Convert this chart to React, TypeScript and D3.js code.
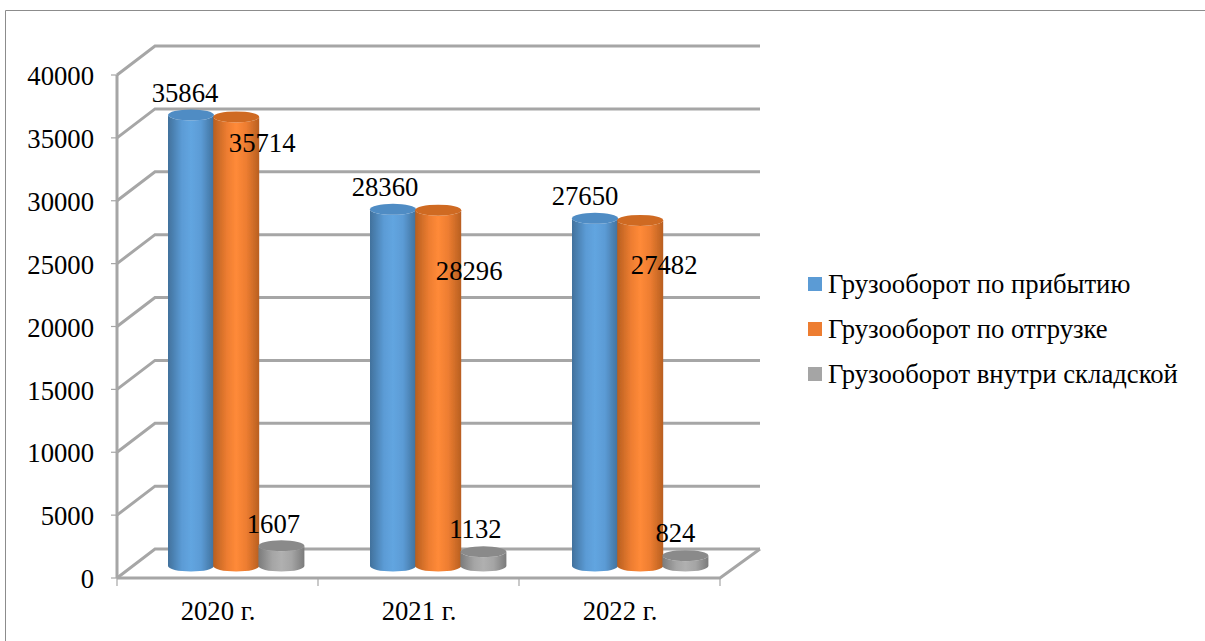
import React from "react";
import * as d3 from "d3";

const categories = ["2020 г.", "2021 г.", "2022 г."];
const seriesNames = ["Грузооборот по прибытию", "Грузооборот по отгрузке", "Грузооборот внутри складской"];
const arrival = [35864, 28360, 27650];
const shipment = [35714, 28296, 27482];
const internal = [1607, 1132, 824];
const yTicks = [0, 5000, 10000, 15000, 20000, 25000, 30000, 35000, 40000];

const seriesValues = [arrival, shipment, internal];
const palette = [
  { top: "#4f8cc4", edge: "#41719c", mid: "#5b9bd5", light: "#62a5e0", legend: "#5b9bd5" },
  { top: "#cf6a22", edge: "#b85f20", mid: "#ed7d31", light: "#ff8a38", legend: "#ed7d31" },
  { top: "#8a8a8a", edge: "#7b7b7b", mid: "#a5a5a5", light: "#b0b0b0", legend: "#a5a5a5" },
];
// label nudges relative to the top centre of each cylinder [dx, dy of text middle]
const labelNudges = [
  [[-6, -19], [-8, -19], [-10, -19]],
  [[26, 29], [31, 64], [24, 47]],
  [[-8, -19], [-8, -20], [-10, -20]],
];

const FONT = "'Liberation Serif', 'Times New Roman', serif";
const GRID = "#a6a6a6";
const FRONT_X0 = 117, FRONT_X1 = 720, DX = 38, DY = 29;
const Y0 = 578, Y1 = 75;
const FS = 26.7;

export default function App() {
  const y = d3.scaleLinear().domain([0, 40000]).range([Y0, Y1]);
  const x = d3.scaleBand<string>().domain(categories).range([FRONT_X0, FRONT_X1]);
  const sub = d3.scaleBand<string>().domain(["0", "1", "2"]).range([51, 51 + 138]);
  const baseShift = -12;
  const rx = 23, ry = 5.5;
  const leftOf = (c: string, ci: number, si: number) =>
    (x(c) as number) + (sub(String(si)) as number) - si * 0.8 + ci;

  return (
    <svg width={1205} height={641} style={{ position: "absolute", left: 0, top: 0, background: "#fff" }} fontFamily={FONT}>
      <defs>
        {palette.map((p, i) => (
          <linearGradient key={i} id={`cyl${i}`} x1="0" x2="1" y1="0" y2="0">
            <stop offset="0" stopColor={p.edge} />
            <stop offset="0.3" stopColor={p.mid} />
            <stop offset="0.5" stopColor={p.light} />
            <stop offset="0.72" stopColor={p.mid} />
            <stop offset="1" stopColor={p.edge} />
          </linearGradient>
        ))}
        <filter id="soft" x="-5%" y="-5%" width="110%" height="110%">
          <feGaussianBlur stdDeviation="0.45" />
        </filter>
      </defs>

      <path d="M5.5,641V10.5H1205" fill="none" stroke="#8c8c8c" strokeWidth={1} />

      <g filter="url(#soft)">
        {yTicks.map((t) => (
          <polyline
            key={t}
            points={`${FRONT_X0},${y(t)} ${FRONT_X0 + DX},${y(t) - DY} ${FRONT_X1 + DX + 2},${y(t) - DY}`}
            fill="none"
            stroke={GRID}
            strokeWidth={3}
          />
        ))}
        <line x1={FRONT_X0} x2={FRONT_X0} y1={Y1} y2={Y0} stroke={GRID} strokeWidth={3} />
        <polyline
          points={`${FRONT_X0},${Y0} ${FRONT_X1},${Y0} ${FRONT_X1 + DX + 2},${Y0 - DY}`}
          fill="none"
          stroke={GRID}
          strokeWidth={3}
        />
        {yTicks.map((t) => (
          <line key={t} x1={FRONT_X0 - 6} x2={FRONT_X0} y1={y(t)} y2={y(t)} stroke={GRID} strokeWidth={1.2} />
        ))}
        {[...categories.map((c) => x(c) as number), FRONT_X1].map((v) => (
          <line key={v} x1={v} x2={v} y1={Y0} y2={Y0 + 8} stroke={GRID} strokeWidth={1.2} />
        ))}

        {categories.map((c, ci) =>
          seriesValues.map((vals, si) => {
            const left = leftOf(c, ci, si);
            const w = rx * 2;
            const cx = left + rx;
            const yBase = y(0) + baseShift;
            const yTop = y(vals[ci]) + baseShift;
            const body = `M${left},${yTop}V${yBase}A${rx},${ry} 0 0 0 ${left + w},${yBase}V${yTop}A${rx},${ry} 0 0 1 ${left},${yTop}Z`;
            return (
              <g key={`${ci}-${si}`}>
                <path d={body} fill={`url(#cyl${si})`} />
                <ellipse cx={cx} cy={yTop} rx={rx} ry={ry} fill={palette[si].top} />
              </g>
            );
          })
        )}
      </g>

      {yTicks.map((t) => (
        <text key={t} x={94} y={y(t) + 4} textAnchor="end" dominantBaseline="middle" fontSize={FS} fill="#000">
          {t}
        </text>
      ))}
      {categories.map((c) => (
        <text key={c} x={(x(c) as number) + x.bandwidth() / 2 + 0.5} y={614} textAnchor="middle" dominantBaseline="middle" fontSize={FS} fill="#000">
          {c}
        </text>
      ))}
      {categories.map((c, ci) =>
        seriesValues.map((vals, si) => {
          const cx = leftOf(c, ci, si) + rx;
          const yTop = y(vals[ci]) + baseShift;
          const [dx, dy] = labelNudges[si][ci];
          return (
            <text key={`${ci}-${si}`} x={cx + dx} y={yTop + dy} textAnchor="middle" dominantBaseline="middle" fontSize={FS} fill="#000">
              {vals[ci]}
            </text>
          );
        })
      )}

      {seriesNames.map((n, i) => (
        <g key={n} transform={`translate(808,${277 + i * 45})`}>
          <rect width={14} height={14} fill={palette[i].legend} />
          <text x={20} y={10} dominantBaseline="middle" fontSize={FS} fill="#000">
            {n}
          </text>
        </g>
      ))}
    </svg>
  );
}
